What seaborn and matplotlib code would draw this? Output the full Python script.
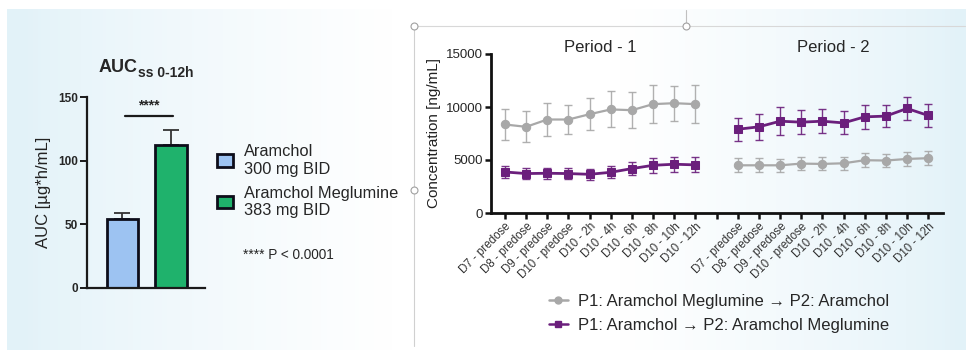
import numpy as np
import pandas as pd
import matplotlib
matplotlib.use("Agg")
import matplotlib.pyplot as plt
import seaborn as sns
from matplotlib.lines import Line2D
from matplotlib.patches import Patch

# ---------------- data ----------------
auc_groups = ["Aramchol\n300 mg BID", "Aramchol Meglumine\n383 mg BID"]
auc_means = [54, 112]
auc_sem = [5, 12]

timepoints = ["D7 - predose", "D8 - predose", "D9 - predose", "D10 - predose",
              "D10 - 2h", "D10 - 4h", "D10 - 6h", "D10 - 8h", "D10 - 10h", "D10 - 12h"]
grey_p1 = [8350, 8130, 8820, 8820, 9320, 9770, 9700, 10270, 10360, 10270]
grey_p1_err = [1500, 1450, 1600, 1400, 1500, 1700, 1700, 1760, 1640, 1760]
purple_p1 = [3870, 3720, 3750, 3720, 3650, 3840, 4190, 4500, 4600, 4540]
purple_p1_err = [550, 550, 500, 500, 500, 550, 600, 700, 700, 700]
purple_p2 = [7900, 8130, 8660, 8570, 8660, 8500, 9070, 9140, 9860, 9200]
purple_p2_err = [1100, 1230, 1300, 1100, 1140, 1080, 1130, 1060, 1130, 1130]
grey_p2 = [4500, 4500, 4500, 4660, 4630, 4690, 4980, 4950, 5100, 5170]
grey_p2_err = [650, 650, 600, 600, 620, 620, 650, 650, 650, 650]

series_labels = ["P1: Aramchol Meglumine \u2192 P2: Aramchol",
                 "P1: Aramchol \u2192 P2: Aramchol Meglumine"]

# ---------------- style ----------------
sns.set_style("ticks")
plt.rcParams['font.family'] = ['Liberation Sans', 'DejaVu Sans']

BLUE = "#9dc3f2"
GREEN = "#1fb26c"
GREY = "#a8a8a8"
PURPLE = "#6b1f7c"

W, H = 971, 356
fig = plt.figure(figsize=(W / 100, H / 100), dpi=100)

# background gradient
bg = fig.add_axes([0, 0, 1, 1], zorder=-10)
xs = np.linspace(0, 1, 400)
c_blue = np.array([0.89, 0.95, 0.975])
white = np.array([1.0, 1.0, 1.0])
wl = np.clip((xs - 0.02) / 0.38, 0, 1)
wr = np.clip((0.99 - xs) / 0.35, 0, 1)
t = np.minimum(wl, wr) ** 0.8
row = (1 - t)[:, None] * c_blue + t[:, None] * white
img = np.tile(row[None, :, :], (100, 1, 1))
bg.imshow(img, aspect='auto', extent=[7 / W, 965 / W, 1 - 350 / H, 1 - 9 / H])
bg.set_xlim(0, 1)
bg.set_ylim(0, 1)
bg.axis('off')
# selection box decorations
bg.plot([414 / W, 414 / W], [1 - 26 / H, 1 - 346 / H], color="#d0d0d0", lw=0.8)
bg.plot([414 / W, 965 / W], [1 - 26 / H, 1 - 26 / H], color="#d8d8d8", lw=0.8)
bg.plot([686 / W, 686 / W], [1 - 26 / H, 1 - 10 / H], color="#c0c0c0", lw=0.8)
for (cx, cy) in [(414, 26), (686, 26), (414, 190)]:
    bg.plot(cx / W, 1 - cy / H, 'o', ms=5, mfc='white', mec='#a0a0a0', mew=0.8)

# ---------------- left: bar chart ----------------
ax1 = fig.add_axes([87 / W, 1 - 288 / H, 118 / W, 191 / H])
ax1.set_facecolor('none')
df_auc = pd.DataFrame({"group": auc_groups, "auc": auc_means})
sns.barplot(data=df_auc, x="group", y="auc", hue="group",
            palette=[BLUE, GREEN], legend=False, width=0.64, saturation=1,
            edgecolor="#0d0d1a", linewidth=2.0, ax=ax1, errorbar=None)
ax1.errorbar([0, 1], auc_means, yerr=[[0, 0], auc_sem], fmt='none',
             ecolor="#333333", elinewidth=1.3, capsize=5.5, capthick=1.3, zorder=1)
for p in ax1.patches:
    p.set_zorder(2)
ax1.set_xlim(-0.73, 1.70)
ax1.set_ylim(0, 150)
ax1.set_yticks([0, 50, 100, 150])
ax1.set_xticks([])
ax1.set_xlabel("")
ax1.set_ylabel("AUC [\u00b5g*h/mL]", fontsize=12, labelpad=5, color="#222222")
for lab in ax1.get_yticklabels():
    lab.set_fontweight('bold')
    lab.set_fontsize(8.5)
sns.despine(ax=ax1)
for s in ['left', 'bottom']:
    ax1.spines[s].set_linewidth(1.6)
    ax1.spines[s].set_color('#1a1a1a')
ax1.tick_params(axis='y', width=1.4, length=5, color='#1a1a1a', pad=1.5)
ax1.plot([0.05, 1.05], [135, 135], color='#1a1a1a', lw=1.6, clip_on=False)
ax1.text(0.55, 138, "****", ha='center', va='bottom', fontsize=10, fontweight='bold')

fig.text(99 / W, 1 - 72 / H, "AUC", fontsize=13, fontweight='bold', va='baseline', ha='left')
fig.text(138 / W, 1 - 77 / H, "ss 0-12h", fontsize=10, fontweight='bold', va='baseline', ha='left')

handles1 = [Patch(facecolor=BLUE, edgecolor='#0d0d1a', linewidth=2),
            Patch(facecolor=GREEN, edgecolor='#0d0d1a', linewidth=2)]
fig.legend(handles1, auc_groups, loc='upper left', bbox_to_anchor=(0.215, 0.618),
           frameon=False, fontsize=11.8, handlelength=1.0, handleheight=0.8,
           handletextpad=0.65, labelspacing=0.55, borderpad=0)
fig.text(243 / W, 1 - 255 / H, "**** P < 0.0001", fontsize=9.8, va='center', ha='left')

# ---------------- right: time course ----------------
ax2 = fig.add_axes([491 / W, 1 - 213 / H, 452 / W, 159 / H])
ax2.set_facecolor('none')
x_p1 = list(range(10))
x_p2 = list(range(11, 21))
segments = [
    (x_p1, grey_p1, grey_p1_err, GREY, 'o', 1.6),
    (x_p2, grey_p2, grey_p2_err, GREY, 'o', 1.6),
    (x_p1, purple_p1, purple_p1_err, PURPLE, 's', 2.0),
    (x_p2, purple_p2, purple_p2_err, PURPLE, 's', 2.0),
]
for xv, yv, ev, col, mk, lw in segments:
    d = pd.DataFrame({"x": xv, "y": yv})
    ax2.errorbar(xv, yv, yerr=ev, fmt='none', ecolor=col, elinewidth=1.0,
                 capsize=3, capthick=1.0, alpha=0.9, zorder=2)
    sns.lineplot(data=d, x="x", y="y", color=col, marker=mk, markersize=6,
                 markeredgecolor=col, linewidth=lw, ax=ax2, zorder=3, legend=False)

ax2.set_xlim(-0.66, 20.7)
ax2.set_ylim(0, 15000)
ax2.set_yticks([0, 5000, 10000, 15000])
ax2.set_xticks(list(range(21)))
ax2.set_xticklabels(timepoints + [""] + timepoints, rotation=45, ha='right',
                    rotation_mode='anchor', fontsize=8.3, color="#333333")
ax2.set_xlabel("")
ax2.set_ylabel("Concentration [ng/mL]", fontsize=11, labelpad=4, color="#222222")
for lab in ax2.get_yticklabels():
    lab.set_fontsize(9.5)
sns.despine(ax=ax2)
for s in ['left', 'bottom']:
    ax2.spines[s].set_linewidth(2.0)
    ax2.spines[s].set_color('#111111')
ax2.tick_params(axis='both', width=1.8, length=4, color='#111111', pad=1.5)
ax2.text(4.5, 15150, "Period - 1", ha='center', va='baseline', fontsize=12, clip_on=False)
ax2.text(15.5, 15150, "Period - 2", ha='center', va='baseline', fontsize=12, clip_on=False)

handles2 = [Line2D([], [], color=GREY, marker='o', markersize=5, lw=1.8),
            Line2D([], [], color=PURPLE, marker='s', markersize=5, lw=1.8)]
fig.legend(handles2, series_labels, loc='upper left', bbox_to_anchor=(0.557, 0.197),
           frameon=False, fontsize=12, handlelength=1.1, handletextpad=0.6,
           labelspacing=0.5, borderpad=0)

fig.savefig("out.png", dpi=100)
